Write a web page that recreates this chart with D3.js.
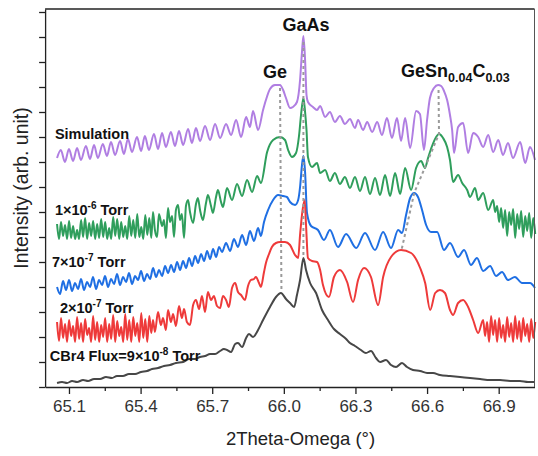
<!DOCTYPE html>
<html>
<head>
<meta charset="utf-8">
<title></title>
<script src="https://d3js.org/d3.v7.min.js"></script>
<style type="text/css">
	body { margin: 0; background: #fff; }
	text { font-family: "Liberation Sans", Arial, sans-serif; }
	.lbl { font-weight: bold; fill: #111; }
	.curve { fill: none; stroke-width: 2; stroke-linejoin: round; }
	.guide { fill: none; stroke: #9a9a9a; stroke-width: 2; stroke-dasharray: 3,3; }
	.axis path, .axis line { stroke: #222; stroke-width: 1.3; }
	.axis text { font-size: 17px; fill: #333; }
</style>
</head>
<body>
<script type="text/javascript">

var width = 538,
	height = 456;

// axis ticks (2Theta-Omega, deg) and unlabeled intensity ticks (arb. unit)
var majorTicks = [65.1, 65.4, 65.7, 66.0, 66.3, 66.6, 66.9];
var minorTicks = [65.25, 65.55, 65.85, 66.15, 66.45, 66.75];
var yTicks = [0, 25, 50, 75, 100, 125, 150, 175, 200, 225, 250, 275, 300, 325, 350, 375];

// scan step used for the noisy stretches
var scanStep = 0.0084;

// Simulation
var simPts = [[65.050,229],[65.066,237],[65.083,225],[65.100,238],[65.117,226],[65.134,239],[65.150,227],[65.171,241],[65.188,228],[65.205,242],[65.221,229],[65.242,243],[65.259,231],[65.276,245],[65.293,232],[65.314,246],[65.330,233],[65.347,248],[65.364,235],[65.385,250],[65.402,236],[65.418,251],[65.435,237],[65.456,253],[65.473,238],[65.490,254],[65.506,240],[65.527,255],[65.544,241],[65.561,256],[65.578,242],[65.599,258],[65.615,244],[65.632,259],[65.649,246],[65.670,261],[65.691,247],[65.712,263],[65.733,249],[65.758,263],[65.779,252],[65.800,267],[65.821,250],[65.842,270],[65.858,260],[65.871,276],[65.892,257],[65.913,277],[65.925,287],[65.942,298],[65.963,302],[65.984,302],[65.997,297],[66.009,289],[66.026,279],[66.038,280],[66.055,285],[66.068,307],[66.076,335],[66.082,351],[66.089,327],[66.095,292],[66.101,285],[66.122,280],[66.139,277],[66.152,281],[66.173,270],[66.193,275],[66.214,265],[66.235,271],[66.256,263],[66.277,268],[66.298,259],[66.311,267],[66.332,257],[66.349,265],[66.370,255],[66.391,265],[66.411,252],[66.432,269],[66.453,249],[66.474,269],[66.491,246],[66.508,269],[66.529,239],[66.554,276],[66.570,273],[66.587,237],[66.600,267],[66.612,289],[66.629,299],[66.646,302],[66.659,301],[66.671,296],[66.684,287],[66.696,272],[66.705,257],[66.713,234],[66.730,260],[66.751,264],[66.772,234],[66.793,254],[66.814,250],[66.835,240],[66.856,252],[66.877,235],[66.898,247],[66.918,232],[66.939,244],[66.960,229],[66.990,245],[67.011,224],[67.031,240],[67.052,227]];

// 1x10^-6 Torr
var greenNoiseStart = 65.050;
var greenNoise = [163,148,165,151,162,148,166,149,161,148,157,148,167,150,169,148,164,151,166,148,163,149,168,150,165,148,159,148,170,151,168,148,165,150,161,148,171,151,167,149,173,150,160,148,172,152,169,149];
var greenPts = [[65.452,175],[65.460,157],[65.469,150],[65.477,173],[65.490,161],[65.498,167],[65.506,149],[65.515,179],[65.523,165],[65.532,171],[65.540,150],[65.548,177],[65.557,182],[65.565,167],[65.573,173],[65.582,149],[65.590,181],[65.599,187],[65.607,175],[65.620,164],[65.632,183],[65.640,189],[65.649,177],[65.661,167],[65.674,184],[65.682,192],[65.695,181],[65.703,174],[65.716,190],[65.724,197],[65.737,185],[65.745,180],[65.762,199],[65.783,187],[65.804,203],[65.825,191],[65.846,207],[65.867,195],[65.888,211],[65.904,204],[65.930,235],[65.955,247],[65.984,250],[66.005,247],[66.018,237],[66.034,230],[66.051,234],[66.064,252],[66.072,272],[66.082,289],[66.089,275],[66.095,257],[66.101,230],[66.118,220],[66.139,224],[66.152,214],[66.173,217],[66.193,206],[66.214,214],[66.235,203],[66.256,210],[66.277,199],[66.298,210],[66.319,196],[66.340,210],[66.361,193],[66.382,209],[66.403,192],[66.424,212],[66.445,191],[66.466,214],[66.487,193],[66.508,219],[66.533,197],[66.554,219],[66.575,226],[66.591,219],[66.604,229],[66.621,241],[66.638,250],[66.650,253],[66.667,249],[66.684,240],[66.696,227],[66.709,205],[66.730,212],[66.747,204],[66.768,197],[66.780,190],[66.801,199],[66.814,187],[66.835,194],[66.856,177],[66.877,187]];
var greenTailStart = 66.885;
var greenTail = [175,181,165,179,159,177,151,175,162,178,149,173,158,176,150,171,156,174,149,169,153];

// 7x10^-7 Torr
var blueNoiseStart = 65.050;
var blueNoiseStep = 0.01257;
var blueNoise = [100,93,106,97,107,96,104,98,108,97,105,100,110,98,107,102,111,100,108,103,113,102,110,105,114,103,111,107,116,106,113,108,119,110,117,111,121,114,122,115,125,117,126,119,129,121,131,124,133,126,136,128,138,130,140];
var bluePts = [[65.741,135],[65.758,144],[65.775,136],[65.791,148],[65.808,140],[65.825,152],[65.842,142],[65.858,156],[65.875,146],[65.892,159],[65.904,151],[65.917,165],[65.934,177],[65.955,187],[65.976,192],[65.997,191],[66.013,190],[66.026,185],[66.047,182],[66.060,187],[66.068,200],[66.076,222],[66.082,231],[66.089,215],[66.097,174],[66.114,161],[66.143,157],[66.168,147],[66.193,157],[66.227,140],[66.261,153],[66.303,139],[66.340,154],[66.382,137],[66.416,155],[66.449,139],[66.479,157],[66.495,154],[66.512,172],[66.529,189],[66.546,194],[66.562,190],[66.579,177],[66.596,162],[66.617,155],[66.642,155],[66.671,137],[66.696,144],[66.730,130],[66.755,137],[66.784,122],[66.809,129],[66.835,116],[66.864,121],[66.889,111],[66.914,115],[66.939,107],[66.968,110],[66.998,104],[67.031,104],[67.052,99]];

// 2x10^-7 Torr
var redNoiseStart = 65.050;
var redNoise = [65,46,69,49,63,45,67,51,61,45,70,48,64,45,68,52,59,45,71,47,65,45,62,50,69,45,63,48,72,45,66,51,60,45,73,47,67,45,70,51,64,45,74,49,68,45,71,54];
var redPts = [[65.452,67],[65.460,55],[65.473,75],[65.485,62],[65.494,69],[65.506,57],[65.515,77],[65.527,65],[65.536,73],[65.548,61],[65.561,81],[65.573,69],[65.582,78],[65.594,65],[65.607,62],[65.620,82],[65.632,87],[65.645,78],[65.657,91],[65.670,75],[65.682,95],[65.695,87],[65.707,91],[65.720,81],[65.733,79],[65.745,91],[65.758,87],[65.770,80],[65.783,99],[65.796,104],[65.808,95],[65.821,92],[65.837,87],[65.850,101],[65.862,107],[65.875,108],[65.883,110],[65.896,104],[65.904,100],[65.917,115],[65.925,124],[65.938,133],[65.950,140],[65.967,144],[65.984,145],[66.005,145],[66.026,142],[66.047,132],[66.060,129],[66.068,152],[66.076,172],[66.087,187],[66.093,162],[66.101,129],[66.118,126],[66.139,125],[66.152,117],[66.164,102],[66.189,90],[66.210,110],[66.235,117],[66.265,105],[66.290,85],[66.311,107],[66.336,119],[66.365,110],[66.395,82],[66.416,110],[66.449,130],[66.491,137],[66.533,134],[66.571,119],[66.592,104],[66.613,77],[66.634,94],[66.654,97],[66.675,94],[66.696,77],[66.709,72],[66.730,84],[66.751,87],[66.772,80],[66.793,67],[66.814,54],[66.835,67]];
var redTailStart = 66.843;
var redTail = [51,65,45,71,52,67,45,69,49,62,45,70,50,64,45,71,48,66,45,69,51,63,45,68,49,65];

// CBr4 Flux=9x10^-8 Torr
var blackPts = [[65.050,4],[65.071,5],[65.092,4],[65.113,6],[65.134,5],[65.159,7],[65.180,6],[65.205,8],[65.230,8],[65.255,10],[65.280,9],[65.301,11],[65.326,11],[65.351,13],[65.377,13],[65.402,15],[65.427,16],[65.448,18],[65.473,19],[65.498,21],[65.523,22],[65.548,24],[65.578,25],[65.603,28],[65.628,28],[65.649,30],[65.670,31],[65.691,33],[65.712,33],[65.733,36],[65.749,38],[65.762,37],[65.779,35],[65.796,43],[65.808,44],[65.825,40],[65.842,49],[65.854,53],[65.871,50],[65.892,57],[65.913,67],[65.942,80],[65.967,90],[65.988,94],[66.009,88],[66.026,84],[66.043,80],[66.055,92],[66.068,107],[66.082,129],[66.093,117],[66.110,104],[66.135,94],[66.160,77],[66.185,67],[66.210,58],[66.235,53],[66.261,48],[66.277,44],[66.298,41],[66.323,37],[66.344,34],[66.365,36],[66.386,29],[66.403,25],[66.428,27],[66.449,22],[66.470,20],[66.495,24],[66.516,20],[66.541,17],[66.571,16],[66.600,14],[66.625,14],[66.654,12],[66.696,11],[66.738,10],[66.780,9],[66.822,8],[66.864,7],[66.906,7],[66.948,6],[66.989,6],[67.023,5],[67.052,5]];

// peak guides
var guideGe = [[65.984,299],[65.990,95]];
var guideGaAs = [[66.082,345],[66.082,129]];
var guideGeSnC = [[66.648,297],[66.650,253],[66.546,194],[66.493,137]];

var svg = d3.select('body').append('svg')
	.attr('width', width)
	.attr('height', height);

var x = d3.scaleLinear().domain([65.0, 67.05]).range([45.1, 534.5]);
var y = d3.scaleLinear().domain([0, 378]).range([387, 9]);

function grid(start, step, vals) {
	return vals.map(function(v, i) { return [start + i * step, v]; });
}

var line = d3.line()
	.x(function(d) { return x(d[0]); })
	.y(function(d) { return y(d[1]); })
	.curve(d3.curveMonotoneX);

var series = [
	{ pts: simPts, color: '#b07ee2' },
	{ pts: grid(greenNoiseStart, scanStep, greenNoise).concat(greenPts, grid(greenTailStart, scanStep, greenTail)), color: '#2f9e5c' },
	{ pts: grid(blueNoiseStart, blueNoiseStep, blueNoise).concat(bluePts), color: '#1f6fe3' },
	{ pts: grid(redNoiseStart, scanStep, redNoise).concat(redPts, grid(redTailStart, scanStep, redTail)), color: '#ee3a3a' },
	{ pts: blackPts, color: '#474747' }
];

svg.selectAll('.curve')
	.data(series)
	.enter().append('path')
	.attr('class', 'curve')
	.attr('stroke', function(d) { return d.color; })
	.attr('d', function(d) { return line(d.pts); });

var guideLine = d3.line()
	.x(function(d) { return x(d[0]); })
	.y(function(d) { return y(d[1]); });

svg.selectAll('.guide')
	.data([guideGe, guideGaAs, guideGeSnC])
	.enter().append('path')
	.attr('class', 'guide')
	.attr('d', guideLine);

// axes
svg.append('g')
	.attr('class', 'axis')
	.attr('transform', 'translate(0,' + y(0) + ')')
	.call(d3.axisBottom(x).tickValues(majorTicks).tickSize(7).tickSizeOuter(0).tickPadding(6).tickFormat(d3.format('.1f')));

svg.append('g')
	.attr('class', 'axis')
	.attr('transform', 'translate(0,' + y(0) + ')')
	.call(d3.axisBottom(x).tickValues(minorTicks).tickSize(4).tickSizeOuter(0).tickFormat(''))
	.select('.domain').remove();

svg.append('g')
	.attr('class', 'axis')
	.attr('transform', 'translate(' + x(65.0) + ',0)')
	.call(d3.axisLeft(y).tickValues(yTicks).tickSize(6).tickSizeOuter(0).tickFormat(''));

// frame top and right
svg.append('line')
	.attr('x1', x(65.0)).attr('x2', x(67.05))
	.attr('y1', y(378)).attr('y2', y(378))
	.style('stroke', '#222').style('stroke-width', 1.3);
svg.append('line')
	.attr('x1', x(67.05)).attr('x2', x(67.05))
	.attr('y1', y(378)).attr('y2', y(0))
	.style('stroke', '#555').style('stroke-width', 1);

svg.append('text')
	.attr('x', x(66.07))
	.attr('y', 445)
	.attr('text-anchor', 'middle')
	.style('font-size', '18.5px')
	.style('fill', '#222')
	.text('2Theta-Omega (\u00b0)');

svg.append('text')
	.attr('transform', 'translate(28,' + y(199) + ') rotate(-90)')
	.attr('text-anchor', 'middle')
	.style('font-size', '19.5px')
	.style('fill', '#222')
	.text('Intensity (arb. unit)');

// peak labels
svg.append('text').attr('class', 'lbl')
	.attr('x', x(66.093)).attr('y', y(356))
	.attr('text-anchor', 'middle')
	.style('font-size', '18px')
	.text('GaAs');

svg.append('text').attr('class', 'lbl')
	.attr('x', x(65.963)).attr('y', y(309))
	.attr('text-anchor', 'middle')
	.style('font-size', '18px')
	.text('Ge');

var gsc = svg.append('text').attr('class', 'lbl')
	.attr('x', x(66.491)).attr('y', y(310))
	.style('font-size', '18px');
gsc.append('tspan').text('GeSn');
gsc.append('tspan').attr('dy', 5).style('font-size', '12.5px').text('0.04');
gsc.append('tspan').attr('dy', -5).text('C');
gsc.append('tspan').attr('dy', 5).style('font-size', '12.5px').text('0.03');

// series labels
var seriesLabels = [
	{ pos: [65.041, 248], main: 'Simulation' },
	{ pos: [65.041, 172], main: '1\u00d710', sup: '-6', tail: ' Torr' },
	{ pos: [65.029, 120], main: '7\u00d710', sup: '-7', tail: ' Torr' },
	{ pos: [65.062, 74], main: '2\u00d710', sup: '-7', tail: ' Torr' },
	{ pos: [65.020, 26], main: 'CBr4 Flux=9\u00d710', sup: '-8', tail: ' Torr' }
];

seriesLabels.forEach(function(d) {
	var t = svg.append('text').attr('class', 'lbl')
		.attr('x', x(d.pos[0])).attr('y', y(d.pos[1]))
		.style('font-size', '14.5px');
	t.append('tspan').text(d.main);
	if (d.sup) {
		t.append('tspan').attr('dy', -6).style('font-size', '10px').text(d.sup);
		t.append('tspan').attr('dy', 6).text(d.tail);
	}
});

</script>
</body>
</html>
